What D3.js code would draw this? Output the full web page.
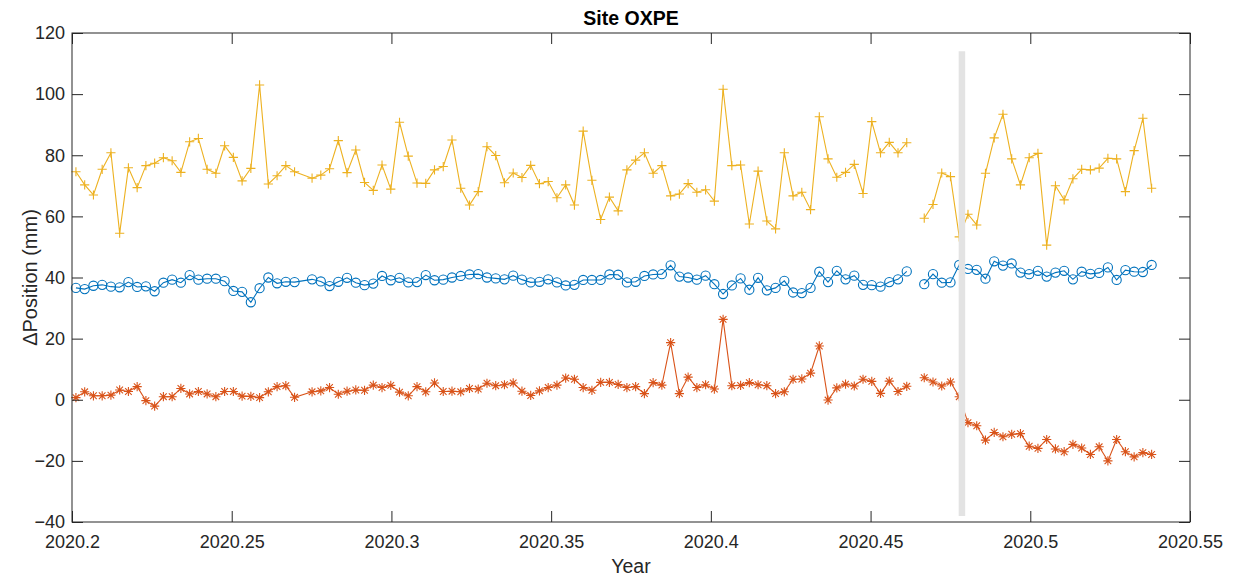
<!DOCTYPE html>
<html><head><meta charset="utf-8">
<script src="https://cdn.jsdelivr.net/npm/d3@7/dist/d3.min.js"></script>
<style>body{margin:0;background:#fff} text{font-family:"Liberation Sans",Arial,Helvetica,sans-serif}</style>
</head><body><svg id="c" width="1243" height="577"></svg>
<script>
// day-of-year of each epoch (2020)
const doy = [74,75,76,77,78,79,80,81,82,83,84,85,86,87,88,89,90,91,92,93,94,95,96,97,98,99,
101,102,103,104,105,106,107,108,109,110,111,112,113,114,115,116,117,118,119,120,121,122,123,124,125,126,127,128,129,130,
131,132,133,134,135,136,137,138,139,140,141,142,143,144,145,146,147,148,149,150,151,152,153,154,155,156,157,158,159,160,
161,162,163,164,165,166,167,168,169,170,171,172,173,174,175,176,177,178,179,180,181,182,183,184,185,186,187,188,189,190,
191,192,193,194,195,196,197];
// blue (circles)
const north = [36.6,36.2,37.3,37.6,37.0,36.8,38.5,36.9,37.1,35.5,38.3,39.3,38.3,40.8,39.3,39.6,39.6,38.8,35.6,35.3,31.9,36.5,40.0,38.1,38.6,38.5,
39.4,38.7,37.2,38.6,39.9,38.3,37.5,38.0,40.5,39.1,39.9,38.4,38.5,40.8,39.1,39.3,40.0,40.5,41.0,41.1,40.0,39.7,39.4,40.6,39.3,
38.4,38.6,39.4,38.4,37.4,37.6,39.2,39.2,39.2,41.0,40.9,38.4,38.6,40.5,41.0,41.1,44.0,40.3,40.0,39.3,40.6,37.8,34.6,37.4,39.7,
36.0,39.9,35.8,36.6,38.9,35.1,34.9,36.6,41.9,38.5,42.2,39.4,40.6,37.6,37.5,37.0,38.5,39.4,42.0,
null,
37.8,41.1,38.3,38.4,44.1,42.8,42.5,39.6,45.3,43.9,44.6,41.6,41.1,42.2,40.3,41.6,42.2,39.4,41.9,41.2,41.5,43.3,39.2,42.4,41.9,41.8,44.1];
// red (asterisks)
const east = [0.7,2.6,1.3,1.3,1.5,3.2,2.7,4.3,-0.3,-2.1,1.0,1.0,3.7,1.9,2.7,1.9,1.0,2.7,2.7,1.2,1.1,0.7,2.6,4.3,4.6,0.8,
2.6,2.9,4.0,1.8,2.8,3.2,3.1,4.8,4.0,4.7,2.5,1.3,4.3,2.6,5.5,2.7,2.8,2.6,3.7,3.5,5.4,4.6,4.9,5.5,2.8,
1.4,2.9,4.0,4.8,7.1,6.7,4.0,3.1,5.7,5.7,5.0,4.0,4.3,2.0,5.6,4.8,18.7,2.0,7.4,4.0,4.9,3.5,26.3,4.6,4.7,
5.6,4.9,4.6,2.0,2.6,6.7,6.8,8.7,17.6,-0.1,3.9,5.1,4.5,6.7,6.0,2.1,6.1,2.7,4.4,
null,
7.2,5.8,4.5,5.8,1.0,-7.5,-8.5,-13.2,-10.7,-12.1,-11.3,-11.1,-15.2,-15.9,-13.0,-16.1,-17.0,-14.6,-15.8,-17.9,-15.4,-20.0,-13.0,-17.0,-18.7,-17.3,-17.9];
// yellow (plus)
const up = [74.6,70.3,67.0,75.4,80.8,54.5,75.9,69.4,76.6,77.4,79.2,78.2,74.4,84.4,85.5,75.4,74.1,83.1,79.3,71.6,75.7,103.0,70.6,73.3,76.6,74.6,
72.5,73.5,75.6,84.8,74.3,81.7,71.1,68.5,76.8,68.9,90.8,79.7,70.9,70.8,75.2,76.3,85.0,69.2,63.7,68.1,82.8,79.9,71.0,74.2,72.7,
76.7,70.7,71.4,66.1,70.3,63.7,87.9,71.8,59.0,66.3,61.8,75.2,78.4,80.8,74.1,76.6,66.7,67.3,70.7,67.9,68.7,65.0,101.6,76.6,76.8,
57.5,74.8,58.5,55.9,80.8,66.7,67.9,62.2,92.6,78.8,72.8,74.4,77.0,67.5,91.0,80.8,84.2,80.8,84.1,
null,
59.4,63.9,74.2,73.0,53.3,60.7,57.2,74.1,85.7,93.4,78.8,70.3,79.2,80.6,50.6,70.0,65.4,72.3,75.4,75.2,75.8,79.0,78.8,68.1,81.5,92.1,69.2];

const xTicks = [2020.2,2020.25,2020.3,2020.35,2020.4,2020.45,2020.5,2020.55];
const xTickLabels = ["2020.2","2020.25","2020.3","2020.35","2020.4","2020.45","2020.5","2020.55"];
const yTicks = [-40,-20,0,20,40,60,80,100,120];
const eventYear = 2020.4786;
const eventRange = [-38, 114];
const titleText = "Site OXPE";
const xLabel = "Year";
const yLabel = "\u0394Position (mm)";

const L = 72, R = 1190, T = 33, B = 522;
const svg = d3.select("#c");
const x = d3.scaleLinear().domain([2020.2, 2020.55]).range([L, R]);
const y = d3.scaleLinear().domain([-40, 120]).range([B, T]);
const years = doy.map(d => 2020 + (d - 0.5) / 365.25);

const axisColor = "#262626";
const fs = 18;

const g = svg.append("g");

function series(vals, color, marker) {
  const data = years.map((t, i) => ({t, v: vals[i]}));
  const line = d3.line().defined(d => d.v != null).x(d => x(d.t)).y(d => y(d.v));
  g.append("path").attr("d", line(data)).attr("fill", "none").attr("stroke", color).attr("stroke-width", 1.1);
  const pts = data.filter(d => d.v != null);
  const r = 4.6;
  if (marker === "o") {
    g.selectAll(null).data(pts).enter().append("circle")
      .attr("cx", d => x(d.t)).attr("cy", d => y(d.v)).attr("r", r)
      .attr("fill", "none").attr("stroke", color).attr("stroke-width", 1.1);
  } else {
    const k = r * 0.72;
    const p = marker === "+" ? `M${-r},0H${r}M0,${-r}V${r}` :
      `M${-r},0H${r}M0,${-r}V${r}M${-k},${-k}L${k},${k}M${-k},${k}L${k},${-k}`;
    g.selectAll(null).data(pts).enter().append("path")
      .attr("transform", d => `translate(${x(d.t)},${y(d.v)})`)
      .attr("d", p).attr("fill", "none").attr("stroke", color).attr("stroke-width", 1.1);
  }
}
series(north, "#0072BD", "o");
series(east, "#D95319", "*");
series(up, "#EDB120", "+");

// event marker
svg.append("line").attr("x1", x(eventYear)).attr("x2", x(eventYear))
  .attr("y1", y(eventRange[0])).attr("y2", y(eventRange[1]))
  .attr("stroke", "#e3e3e3").attr("stroke-width", 6.5);

// axes box with inward ticks
const tl = 11;
const ax = svg.append("g").attr("fill", "none").attr("stroke", axisColor).attr("stroke-width", 1);
ax.append("rect").attr("x", L).attr("y", T).attr("width", R - L).attr("height", B - T);
const xb = d3.axisBottom(x).tickValues(xTicks).tickSize(-tl).tickFormat((d, i) => xTickLabels[i]);
const xt = d3.axisTop(x).tickValues(xTicks).tickSize(-tl).tickFormat("");
const yl = d3.axisLeft(y).tickValues(yTicks).tickSize(-tl);
const yr = d3.axisRight(y).tickValues(yTicks).tickSize(-tl).tickFormat("");
function style(sel) {
  sel.select(".domain").remove();
  sel.selectAll(".tick line").attr("stroke", axisColor);
  sel.selectAll(".tick text").attr("fill", axisColor).style("font-size", fs + "px")
    .style("font-family", '"Liberation Sans",Arial,sans-serif');
}
svg.append("g").attr("transform", `translate(0,${B})`).call(xb).call(style)
  .selectAll(".tick text").attr("dy", "0.71em").attr("y", 13);
svg.append("g").attr("transform", `translate(0,${T})`).call(xt).call(style);
svg.append("g").attr("transform", `translate(${L},0)`).call(yl).call(style)
  .selectAll(".tick text").attr("x", -7);
svg.append("g").attr("transform", `translate(${R},0)`).call(yr).call(style);

svg.append("text").attr("x", (L + R) / 2).attr("y", 25).attr("text-anchor", "middle")
  .attr("font-weight", "bold").attr("font-size", 19.5).attr("fill", "#000").text(titleText);
svg.append("text").attr("x", (L + R) / 2).attr("y", 573).attr("text-anchor", "middle")
  .attr("font-size", 19.5).attr("fill", axisColor).text(xLabel);
svg.append("text").attr("transform", `translate(37,${(T + B) / 2}) rotate(-90)`).attr("text-anchor", "middle")
  .attr("font-size", 20).attr("fill", axisColor).text(yLabel);
</script></body></html>
